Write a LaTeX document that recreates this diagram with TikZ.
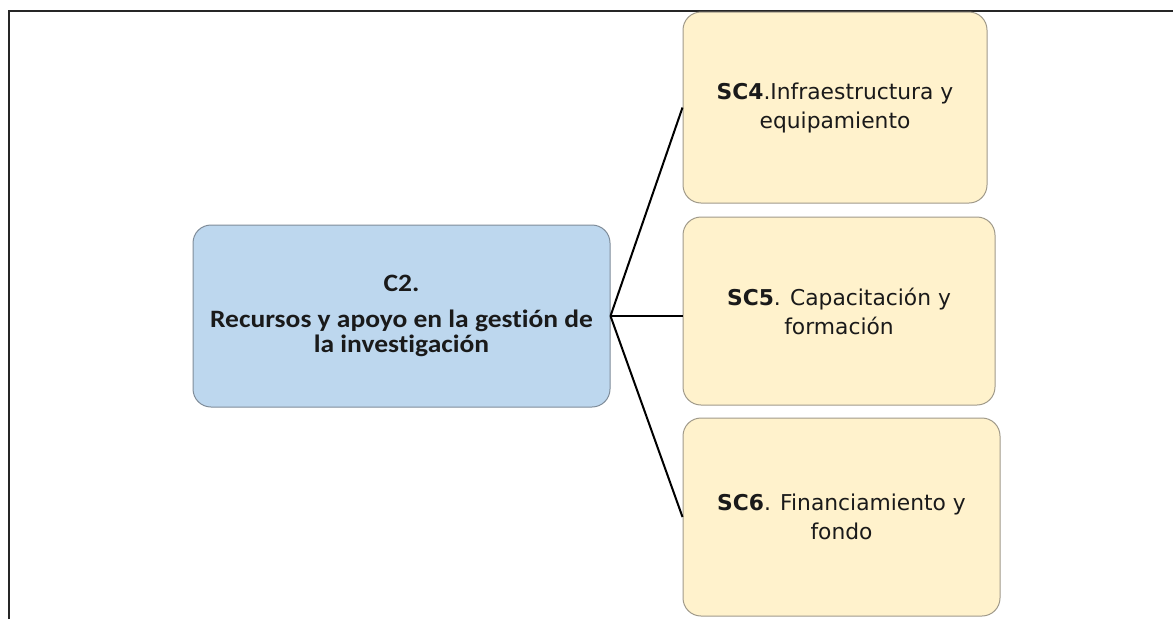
\documentclass[tikz,border=0pt]{standalone}
\usepackage{fontspec}
\newfontfamily\cfont[Ligatures=NoCommon, FakeStretch=1.1]{Carlito}
\newfontfamily\sfont{DejaVu Sans}
\definecolor{bluefill}{HTML}{BDD7EE}
\definecolor{blueedge}{HTML}{7F8C99}
\definecolor{goldfill}{HTML}{FFF2CC}
\definecolor{goldedge}{HTML}{A09A8A}
\definecolor{txt}{HTML}{1A1A1A}
\tikzset{
  mainbox/.style={draw=blueedge, fill=bluefill, line width=1pt, rounded corners=18pt,
    inner sep=0pt, align=center, text=txt, font=\cfont\bfseries\fontsize{25}{25}\selectfont},
  subbox/.style={draw=goldedge, fill=goldfill, line width=1pt, rounded corners=18pt,
    inner sep=0pt, align=center, text=txt, font=\sfont\fontsize{21.8}{29}\selectfont},
  link/.style={draw=black, line width=2pt},
  frameline/.style={draw=black!85, line width=2pt}
}
\begin{document}
\begin{tikzpicture}[x=1pt, y=-1pt]
\useasboundingbox (0,0) rectangle (1173,619);
\coordinate (ftl) at (9,11);
\coordinate (ftr) at (1173,11);
\coordinate (fbl) at (9,619);
\draw[frameline] (fbl) -- (ftl) -- (ftr);
\node[mainbox, minimum width=417pt, minimum height=182pt] (C2) at (401.5,316)
  {C2.\\[11pt]Recursos y apoyo en la gestión de\\la investigación};
\node[subbox, minimum width=304pt, minimum height=191pt] (SC4) at (835,107.5)
  {\textbf{SC4}.Infraestructura y\\equipamiento};
\node[subbox, minimum width=312pt, minimum height=188pt] (SC5) at (839,311)
  {\textbf{SC5}. Capacitación y\\formación};
\node[subbox, minimum width=317pt, minimum height=198pt] (SC6) at (841.5,517)
  {\textbf{SC6}. Financiamiento y\\fondo};
\draw[link] (C2.east) -- (SC4.west);
\draw[link] (C2.east) -- (SC5.west |- C2.east);
\draw[link] (C2.east) -- (SC6.west);
\end{tikzpicture}
\end{document}
